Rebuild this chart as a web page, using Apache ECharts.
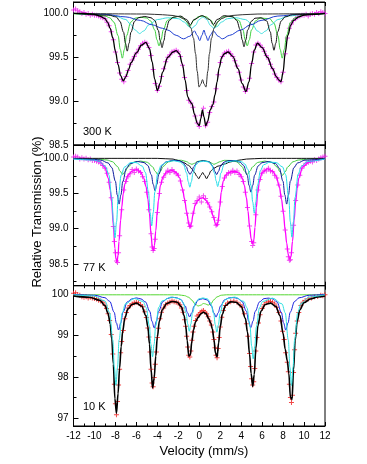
<!DOCTYPE html>
<html><head><meta charset="utf-8">
<script src="https://cdn.jsdelivr.net/npm/echarts@6/dist/echarts.min.js"></script>
<style>html,body{margin:0;padding:0;background:#fff}#c{width:367px;height:464px}</style>
</head><body><div id="c"></div>
<script>
// ---------- labels ----------
const panelLabels = ['300 K', '77 K', '10 K'];
const xTitle = 'Velocity (mm/s)';
const yTitle = 'Relative Transmission (%)';
const velocityRange = [-12, 12, 2];
const yRanges = [[98.5, 100.13, 0.5, 1], [98.19, 100.19, 0.5, 1], [96.81, 100.2, 1, 0]];

// ---------- panel 1 : 300 K ----------
const p1Data = [[-12,100.04],[-11.8,100.05],[-11.6,100.03],[-11.4,100.02],[-11.2,100.0],[-11,100.01],[-10.8,99.99],[-10.6,100.0],[-10.4,99.98],[-10.2,99.99],[-10,99.98],[-9.8,99.98],[-9.6,99.97],[-9.4,99.96],[-9.2,99.95],[-9,99.94],[-8.8,99.9],[-8.6,99.86],[-8.4,99.79],[-8.2,99.7],[-8,99.56],[-7.8,99.44],[-7.6,99.32],[-7.4,99.25],[-7.2,99.22],[-7,99.28],[-6.8,99.35],[-6.6,99.42],[-6.4,99.47],[-6.2,99.51],[-6,99.55],[-5.8,99.59],[-5.6,99.63],[-5.4,99.66],[-5.2,99.67],[-5,99.66],[-4.8,99.61],[-4.6,99.52],[-4.4,99.36],[-4.2,99.2],[-4,99.12],[-3.8,99.17],[-3.6,99.28],[-3.4,99.37],[-3.2,99.45],[-3,99.5],[-2.8,99.53],[-2.6,99.56],[-2.4,99.57],[-2.2,99.58],[-2,99.56],[-1.8,99.51],[-1.6,99.41],[-1.4,99.27],[-1.2,99.12],[-1,99.01],[-0.8,98.98],[-0.6,98.93],[-0.4,98.83],[-0.2,98.75],[0,98.71],[0.2,98.84],[0.4,98.92],[0.6,98.72],[0.8,98.76],[1,98.87],[1.2,98.94],[1.4,98.99],[1.6,99.14],[1.8,99.3],[2,99.44],[2.2,99.51],[2.4,99.55],[2.6,99.56],[2.8,99.57],[3,99.54],[3.2,99.51],[3.4,99.46],[3.6,99.4],[3.8,99.33],[4,99.24],[4.2,99.16],[4.4,99.11],[4.6,99.14],[4.8,99.26],[5,99.43],[5.2,99.56],[5.4,99.64],[5.6,99.66],[5.8,99.64],[6,99.61],[6.2,99.57],[6.4,99.52],[6.6,99.48],[6.8,99.42],[7,99.37],[7.2,99.31],[7.4,99.27],[7.6,99.24],[7.8,99.22],[8,99.33],[8.2,99.54],[8.4,99.72],[8.6,99.83],[8.8,99.88],[9,99.92],[9.2,99.94],[9.4,99.96],[9.6,99.97],[9.8,99.98],[10,99.98],[10.2,99.99],[10.4,99.97],[10.6,99.99],[10.8,100.0],[11,99.99],[11.2,100.01],[11.4,100.0],[11.6,100.02],[11.8,100.01],[12,100.0]];
const p1Fit = [[-12,100.0],[-11,100.0],[-10,99.99],[-9.5,99.97],[-9,99.94],[-8.75,99.9],[-8.5,99.83],[-8.25,99.72],[-8,99.57],[-7.75,99.42],[-7.5,99.29],[-7.25,99.23],[-7,99.28],[-6.75,99.36],[-6.5,99.44],[-6,99.55],[-5.5,99.64],[-5.1,99.67],[-4.75,99.6],[-4.5,99.45],[-4.25,99.25],[-4,99.12],[-3.75,99.2],[-3.5,99.33],[-3,99.5],[-2.5,99.56],[-2.2,99.575],[-1.9,99.54],[-1.6,99.42],[-1.35,99.24],[-1.1,99.05],[-0.9,99.0],[-0.7,98.97],[-0.45,98.85],[-0.2,98.75],[0,98.72],[0.15,98.8],[0.3,98.9],[0.45,98.82],[0.62,98.72],[0.8,98.77],[1.05,98.9],[1.3,98.96],[1.5,99.07],[1.7,99.22],[1.9,99.38],[2.15,99.5],[2.4,99.54],[2.75,99.56],[3.2,99.51],[3.7,99.37],[4.1,99.2],[4.45,99.11],[4.75,99.22],[5,99.43],[5.25,99.58],[5.55,99.66],[6,99.61],[6.5,99.5],[7,99.37],[7.35,99.28],[7.6,99.24],[7.8,99.22],[8,99.33],[8.2,99.55],[8.45,99.75],[8.75,99.87],[9,99.92],[9.5,99.96],[10,99.98],[11,99.99],[12,100.0]];
const p1Green = [[-12,99.995],[-10,99.985],[-9,99.97],[-8.54,99.95],[-8.14,99.9],[-7.74,99.745],[-7.54,99.59],[-7.34,99.49],[-7.14,99.59],[-6.94,99.745],[-6.54,99.9],[-6.14,99.945],[-5.6,99.956],[-5.04,99.948],[-4.64,99.914],[-4.24,99.81],[-4.04,99.7],[-3.84,99.63],[-3.64,99.7],[-3.44,99.81],[-3.04,99.92],[-2.64,99.95],[-2.1,99.966],[-1.72,99.96],[-1.32,99.92],[-0.92,99.85],[-0.52,99.92],[-0.12,99.96],[0.29,99.97],[0.7,99.96],[1.1,99.92],[1.5,99.85],[1.9,99.92],[2.3,99.96],[3,99.968],[3.78,99.92],[4.18,99.81],[4.38,99.7],[4.58,99.63],[4.78,99.7],[4.98,99.81],[5.38,99.915],[5.8,99.947],[6.72,99.94],[7.12,99.89],[7.52,99.745],[7.72,99.59],[7.92,99.49],[8.12,99.59],[8.32,99.745],[8.72,99.9],[9.12,99.95],[10,99.985],[12,99.995]];
const p1Cyan = [[-12,100],[-9,99.99],[-8,99.97],[-7,99.93],[-6.6,99.88],[-6.1,99.81],[-5.7,99.77],[-5.3,99.8],[-4.8,99.87],[-4,99.93],[-3,99.95],[-2,99.94],[-1.4,99.9],[-1,99.85],[-0.7,99.83],[-0.4,99.86],[0,99.93],[0.35,99.96],[0.7,99.93],[1.1,99.86],[1.4,99.83],[1.7,99.85],[2.1,99.9],[2.7,99.94],[3.5,99.95],[4.4,99.93],[5.1,99.87],[5.55,99.8],[5.95,99.77],[6.35,99.8],[6.85,99.87],[7.5,99.93],[8.5,99.97],[10,99.99],[12,100]];
const p1Blue = [[-12,100],[-9,99.99],[-7,99.96],[-5.6,99.92],[-4.5,99.87],[-3.5,99.83],[-3,99.81],[-2.2,99.75],[-1.5,99.71],[-0.9,99.74],[-0.45,99.8],[-0.2,99.75],[0.05,99.69],[0.25,99.75],[0.45,99.81],[0.62,99.75],[0.83,99.69],[1.05,99.75],[1.35,99.8],[1.8,99.74],[2.2,99.71],[2.9,99.75],[3.95,99.81],[4.9,99.87],[5.9,99.92],[7.5,99.97],[9.5,99.99],[12,100]];
const p1Sextet = [[-12,100],[-8.62,99.98],[-7.92,99.96],[-7.57,99.91],[-7.22,99.785],[-7.045,99.66],[-6.87,99.57],[-6.695,99.66],[-6.52,99.785],[-6.17,99.91],[-5.82,99.95],[-5.2,99.965],[-4.6,99.95],[-4.25,99.92],[-3.9,99.805],[-3.725,99.69],[-3.55,99.61],[-3.375,99.69],[-3.2,99.805],[-2.85,99.92],[-2.5,99.955],[-1.8,99.97],[-1.2,99.93],[-0.85,99.87],[-0.5,99.93],[0.25,99.975],[1,99.93],[1.35,99.87],[1.7,99.93],[2.4,99.975],[3.22,99.96],[3.57,99.92],[3.92,99.81],[4.095,99.7],[4.27,99.62],[4.445,99.7],[4.62,99.81],[4.97,99.91],[5.32,99.945],[5.9,99.95],[6.43,99.915],[6.78,99.79],[6.955,99.66],[7.13,99.58],[7.305,99.66],[7.48,99.79],[7.83,99.915],[8.18,99.96],[8.9,99.985],[12,100]];
const p1Doublet = [[-12,100],[-5,99.993],[-3.5,99.985],[-2.5,99.976],[-2,99.964],[-1.5,99.94],[-1.1,99.9],[-0.8,99.833],[-0.55,99.718],[-0.35,99.539],[-0.2,99.342],[-0.02,99.16],[0.15,99.194],[0.31,99.245],[0.47,99.194],[0.64,99.16],[0.82,99.342],[0.97,99.539],[1.17,99.718],[1.42,99.833],[1.72,99.9],[2.12,99.94],[2.62,99.964],[3.12,99.976],[4.1,99.985],[5.6,99.993],[12,100]];

// ---------- panel 2 : 77 K ----------
const p2Data = [[-12,100.02],[-11.8,100.03],[-11.6,100.02],[-11.4,99.99],[-11.2,100.01],[-11,99.99],[-10.8,100],[-10.6,99.98],[-10.4,99.99],[-10.2,99.97],[-10,99.97],[-9.8,99.96],[-9.6,99.95],[-9.4,99.93],[-9.2,99.9],[-9,99.86],[-8.8,99.79],[-8.6,99.66],[-8.4,99.44],[-8.2,99.03],[-8.1,98.82],[-8,98.66],[-7.9,98.54],[-7.8,98.52],[-7.7,98.66],[-7.6,98.9],[-7.4,99.27],[-7.2,99.55],[-7,99.67],[-6.8,99.74],[-6.6,99.78],[-6.4,99.84],[-6.2,99.8],[-6,99.85],[-5.8,99.82],[-5.6,99.8],[-5.4,99.74],[-5.2,99.67],[-5,99.52],[-4.8,99.27],[-4.6,98.93],[-4.5,98.74],[-4.4,98.69],[-4.3,98.72],[-4.2,98.85],[-4,99.23],[-3.8,99.5],[-3.6,99.66],[-3.4,99.73],[-3.2,99.78],[-3,99.83],[-2.8,99.8],[-2.6,99.84],[-2.4,99.81],[-2.2,99.78],[-2,99.76],[-1.8,99.68],[-1.6,99.55],[-1.4,99.4],[-1.2,99.22],[-1,99.08],[-0.9,99.03],[-0.8,99.04],[-0.6,99.22],[-0.4,99.36],[-0.2,99.4],[0,99.45],[0.2,99.38],[0.4,99.47],[0.6,99.43],[0.8,99.37],[1,99.31],[1.2,99.24],[1.4,99.16],[1.6,99.05],[1.7,99.06],[1.8,99.12],[2,99.38],[2.2,99.6],[2.4,99.72],[2.6,99.76],[2.8,99.8],[3,99.79],[3.2,99.83],[3.4,99.8],[3.6,99.82],[3.8,99.77],[4,99.74],[4.2,99.67],[4.4,99.52],[4.6,99.3],[4.8,99.04],[5,98.82],[5.1,98.76],[5.2,98.8],[5.4,99.2],[5.6,99.55],[5.8,99.7],[6,99.79],[6.2,99.83],[6.4,99.82],[6.6,99.86],[6.8,99.82],[7,99.81],[7.2,99.76],[7.4,99.72],[7.6,99.62],[7.8,99.46],[8,99.25],[8.2,98.98],[8.4,98.71],[8.5,98.6],[8.6,98.55],[8.7,98.56],[8.8,98.66],[9,99.05],[9.2,99.4],[9.4,99.62],[9.6,99.76],[9.8,99.86],[10,99.9],[10.2,99.93],[10.4,99.94],[10.6,99.96],[10.8,99.95],[11,99.98],[11.2,99.97],[11.4,99.99],[11.6,100.01],[11.8,100.02],[12,100.03]];
const p2Fit = [[-12,100.0],[-10.5,99.99],[-9.8,99.97],[-9.47,99.95],[-9,99.87],[-8.68,99.72],[-8.5,99.55],[-8.36,99.38],[-8.2,99.05],[-8.05,98.72],[-7.95,98.57],[-7.85,98.53],[-7.75,98.62],[-7.66,98.82],[-7.5,99.12],[-7.4,99.3],[-7.25,99.5],[-7.09,99.64],[-6.8,99.76],[-6.4,99.82],[-5.97,99.84],[-5.6,99.81],[-5.3,99.72],[-5.08,99.6],[-4.9,99.42],[-4.76,99.22],[-4.6,98.92],[-4.48,98.74],[-4.38,98.69],[-4.28,98.76],[-4.15,98.97],[-4,99.25],[-3.9,99.4],[-3.7,99.62],[-3.45,99.74],[-3.1,99.81],[-2.6,99.83],[-2.2,99.8],[-1.9,99.73],[-1.6,99.57],[-1.4,99.42],[-1.2,99.24],[-1,99.07],[-0.88,99.02],[-0.75,99.07],[-0.6,99.2],[-0.4,99.33],[-0.15,99.4],[0.1,99.43],[0.35,99.44],[0.6,99.41],[0.85,99.36],[1.1,99.28],[1.35,99.17],[1.55,99.07],[1.68,99.04],[1.8,99.1],[1.95,99.3],[2.1,99.52],[2.3,99.68],[2.55,99.77],[3,99.81],[3.5,99.81],[3.83,99.79],[4.1,99.72],[4.3,99.62],[4.5,99.44],[4.65,99.25],[4.8,99.03],[4.95,98.86],[5.08,98.79],[5.2,98.83],[5.32,99.02],[5.45,99.3],[5.57,99.5],[5.75,99.68],[6,99.8],[6.5,99.85],[7,99.82],[7.35,99.74],[7.64,99.6],[7.85,99.42],[8.02,99.24],[8.2,98.98],[8.34,98.8],[8.5,98.63],[8.64,98.57],[8.75,98.6],[8.9,98.82],[9.05,99.12],[9.2,99.38],[9.35,99.58],[9.5,99.72],[9.87,99.88],[10.5,99.95],[11.2,99.98],[12,99.99]];
const p2Cyan = [[-12,99.99],[-10,99.975],[-9.54,99.955],[-8.94,99.885],[-8.64,99.77],[-8.34,99.44],[-8.19,99.1],[-8.04,98.87],[-7.89,99.1],[-7.74,99.44],[-7.44,99.765],[-7.14,99.875],[-6.54,99.94],[-6.04,99.94],[-5.44,99.89],[-5.14,99.8],[-4.84,99.515],[-4.69,99.23],[-4.54,99.04],[-4.39,99.23],[-4.24,99.52],[-3.94,99.8],[-3.64,99.9],[-3.04,99.955],[-2.4,99.966],[-1.8,99.947],[-1.5,99.908],[-1.2,99.79],[-1.05,99.67],[-0.9,99.59],[-0.75,99.67],[-0.6,99.79],[-0.3,99.91],[0,99.95],[0.43,99.96],[0.86,99.95],[1.16,99.91],[1.46,99.79],[1.61,99.68],[1.76,99.6],[1.91,99.68],[2.06,99.79],[2.36,99.91],[2.66,99.95],[3.5,99.966],[4.05,99.95],[4.35,99.92],[4.65,99.84],[4.95,99.61],[5.1,99.38],[5.25,99.22],[5.4,99.38],[5.55,99.61],[5.85,99.83],[6.15,99.91],[6.75,99.947],[7.34,99.94],[7.94,99.88],[8.24,99.77],[8.54,99.44],[8.69,99.1],[8.84,98.88],[8.99,99.1],[9.14,99.44],[9.44,99.775],[9.74,99.888],[10.34,99.957],[12,99.99]];
const p2Blue = [[-12,99.995],[-10,99.985],[-9.4,99.975],[-8.7,99.935],[-8.35,99.87],[-8,99.675],[-7.825,99.48],[-7.65,99.35],[-7.475,99.48],[-7.3,99.67],[-6.95,99.86],[-6.6,99.925],[-5.9,99.956],[-5.27,99.94],[-4.92,99.9],[-4.57,99.766],[-4.395,99.63],[-4.22,99.54],[-4.045,99.63],[-3.87,99.77],[-3.52,99.905],[-3.17,99.95],[-2.5,99.972],[-1.93,99.967],[-1.58,99.946],[-1.23,99.88],[-1.055,99.81],[-0.88,99.77],[-0.705,99.81],[-0.53,99.88],[-0.18,99.95],[0.39,99.968],[0.96,99.95],[1.31,99.885],[1.485,99.815],[1.66,99.77],[1.835,99.815],[2.01,99.885],[2.36,99.945],[2.71,99.966],[3.3,99.969],[3.88,99.947],[4.23,99.9],[4.58,99.76],[4.755,99.616],[4.93,99.52],[5.105,99.616],[5.28,99.76],[5.63,99.893],[5.98,99.938],[6.6,99.955],[7.29,99.925],[7.64,99.862],[7.99,99.675],[8.165,99.48],[8.34,99.35],[8.515,99.48],[8.69,99.675],[9.04,99.87],[9.39,99.935],[10.09,99.975],[12,99.994]];
const p2Green = [[-12,99.997],[-10,99.99],[-8.8,99.977],[-8.3,99.954],[-7.8,99.885],[-7.55,99.816],[-7.3,99.77],[-7.05,99.816],[-6.8,99.878],[-6.3,99.943],[-5.62,99.962],[-4.95,99.944],[-4.45,99.88],[-4.2,99.816],[-3.95,99.77],[-3.7,99.816],[-3.45,99.885],[-2.95,99.95],[-2.35,99.973],[-1.7,99.973],[-1.2,99.953],[-0.95,99.93],[-0.7,99.915],[-0.45,99.93],[-0.2,99.955],[0.35,99.97],[0.9,99.955],[1.15,99.935],[1.4,99.915],[1.65,99.93],[1.9,99.95],[2.4,99.972],[3.08,99.97],[3.58,99.95],[4.08,99.885],[4.33,99.816],[4.58,99.77],[4.83,99.816],[5.08,99.878],[5.58,99.942],[6.26,99.962],[6.95,99.942],[7.45,99.874],[7.7,99.808],[7.95,99.76],[8.2,99.808],[8.45,99.88],[8.95,99.952],[9.45,99.976],[10.5,99.99],[12,99.997]];
const p2Black = [[-12,100.0],[-4,100.0],[-2.5,99.99],[-2,99.97],[-1.5,99.94],[-1,99.9],[-0.7,99.85],[-0.45,99.8],[-0.25,99.75],[-0.05,99.71],[0.15,99.76],[0.33,99.8],[0.5,99.76],[0.7,99.71],[0.9,99.76],[1.1,99.82],[1.4,99.86],[1.8,99.89],[2.4,99.92],[3,99.95],[3.6,99.97],[4.5,99.99],[6,100.0],[12,100.0]];

// ---------- panel 3 : 10 K ----------
const p3Data = [[-12,100.02],[-11.8,100.03],[-11.6,99.99],[-11.4,99.97],[-11.2,99.93],[-11,99.92],[-10.8,99.93],[-10.6,99.9],[-10.4,99.92],[-10.2,99.9],[-10,99.89],[-9.8,99.88],[-9.6,99.85],[-9.4,99.83],[-9.2,99.8],[-9,99.73],[-8.85,99.65],[-8.7,99.52],[-8.55,99.36],[-8.4,99.02],[-8.25,98.55],[-8.1,97.82],[-8,97.35],[-7.9,97.08],[-7.8,97.4],[-7.7,97.8],[-7.6,98.18],[-7.5,98.58],[-7.4,98.85],[-7.25,99.12],[-7.1,99.4],[-6.95,99.55],[-6.8,99.66],[-6.6,99.72],[-6.4,99.76],[-6.2,99.79],[-6,99.8],[-5.8,99.79],[-5.6,99.74],[-5.4,99.69],[-5.2,99.57],[-5.05,99.43],[-4.9,99.18],[-4.8,98.96],[-4.7,98.6],[-4.6,98.18],[-4.5,97.85],[-4.4,97.76],[-4.3,97.98],[-4.2,98.3],[-4.1,98.6],[-4,98.95],[-3.9,99.17],[-3.75,99.4],[-3.6,99.56],[-3.4,99.66],[-3.2,99.74],[-3,99.78],[-2.8,99.8],[-2.6,99.83],[-2.4,99.81],[-2.2,99.8],[-2,99.78],[-1.85,99.74],[-1.7,99.66],[-1.55,99.56],[-1.4,99.38],[-1.3,99.22],[-1.2,98.98],[-1.1,98.72],[-1,98.52],[-0.9,98.48],[-0.8,98.62],[-0.7,98.88],[-0.6,99.08],[-0.5,99.22],[-0.35,99.36],[-0.2,99.47],[-0.05,99.5],[0.1,99.55],[0.25,99.58],[0.4,99.6],[0.55,99.56],[0.7,99.52],[0.85,99.45],[1,99.35],[1.15,99.25],[1.3,99.08],[1.4,98.9],[1.5,98.7],[1.6,98.52],[1.7,98.46],[1.8,98.68],[1.9,98.95],[2,99.2],[2.15,99.44],[2.3,99.6],[2.5,99.72],[2.7,99.78],[3,99.81],[3.3,99.83],[3.6,99.8],[3.9,99.74],[4.1,99.68],[4.3,99.52],[4.5,99.28],[4.65,98.98],[4.8,98.56],[4.9,98.25],[5,97.95],[5.1,97.8],[5.2,97.88],[5.3,98.2],[5.4,98.62],[5.5,98.95],[5.65,99.3],[5.8,99.5],[6,99.65],[6.2,99.74],[6.4,99.8],[6.6,99.83],[6.8,99.82],[7,99.8],[7.2,99.76],[7.4,99.68],[7.6,99.55],[7.8,99.35],[7.95,99.1],[8.1,98.9],[8.25,98.58],[8.4,98.35],[8.5,98.12],[8.6,97.82],[8.7,97.5],[8.8,97.38],[8.9,97.55],[9,98.1],[9.1,98.65],[9.2,99.05],[9.35,99.35],[9.5,99.55],[9.7,99.72],[9.9,99.8],[10.1,99.84],[10.4,99.88],[10.7,99.9],[11,99.93],[11.3,99.94],[11.6,99.97],[11.8,99.96],[12,99.98]];
const p3Fit = [[-12,99.955],[-10.5,99.92],[-9.5,99.85],[-9,99.72],[-8.7,99.53],[-8.5,99.275],[-8.35,98.92],[-8.2,98.31],[-8.05,97.47],[-7.9,97.12],[-7.75,97.59],[-7.6,98.21],[-7.45,98.73],[-7.3,99.11],[-7.1,99.42],[-6.8,99.64],[-6.4,99.75],[-6,99.78],[-5.5,99.71],[-5.1,99.48],[-4.9,99.2],[-4.75,98.79],[-4.6,98.18],[-4.45,97.73],[-4.3,97.97],[-4.15,98.5],[-4,98.96],[-3.8,99.35],[-3.5,99.63],[-3.1,99.77],[-2.6,99.82],[-2.1,99.8],[-1.7,99.69],[-1.45,99.48],[-1.3,99.25],[-1.15,98.875],[-1,98.5],[-0.85,98.53],[-0.7,98.86],[-0.55,99.13],[-0.35,99.33],[-0.1,99.435],[0.15,99.52],[0.4,99.56],[0.65,99.525],[0.9,99.405],[1.1,99.29],[1.25,99.16],[1.4,98.9],[1.55,98.57],[1.7,98.48],[1.85,98.82],[2,99.205],[2.2,99.51],[2.5,99.72],[3,99.81],[3.5,99.8],[4,99.7],[4.4,99.41],[4.6,99.085],[4.8,98.55],[4.95,98.08],[5.1,97.765],[5.25,98.055],[5.4,98.68],[5.6,99.24],[5.9,99.59],[6.3,99.745],[6.8,99.78],[7.3,99.7],[7.7,99.48],[8,99.05],[8.2,98.67],[8.4,98.39],[8.55,98.08],[8.7,97.5],[8.85,97.45],[9,98.17],[9.15,98.87],[9.35,99.35],[9.6,99.62],[10,99.79],[10.6,99.88],[11.3,99.93],[12,99.95]];
const p3Cyan = [[-12,99.985],[-10,99.95],[-9,99.83],[-8.55,99.55],[-8.25,98.89],[-8.1,98.23],[-7.95,97.79],[-7.8,98.23],[-7.65,98.89],[-7.35,99.54],[-7.05,99.76],[-6.2,99.89],[-5.36,99.82],[-5.06,99.67],[-4.76,99.23],[-4.61,98.78],[-4.46,98.48],[-4.31,98.78],[-4.16,99.23],[-3.86,99.68],[-3.56,99.83],[-2.7,99.925],[-1.85,99.886],[-1.55,99.8],[-1.25,99.54],[-1.1,99.275],[-0.95,99.1],[-0.8,99.275],[-0.65,99.54],[-0.35,99.8],[-0.05,99.88],[0.36,99.905],[0.78,99.88],[1.08,99.79],[1.38,99.525],[1.53,99.256],[1.68,99.077],[1.83,99.257],[1.98,99.526],[2.28,99.795],[2.58,99.883],[3.4,99.925],[4.25,99.82],[4.55,99.67],[4.85,99.205],[5,98.74],[5.15,98.43],[5.3,98.74],[5.45,99.205],[5.75,99.67],[6.05,99.82],[7,99.9],[7.9,99.76],[8.2,99.545],[8.5,98.887],[8.65,98.228],[8.8,97.789],[8.95,98.23],[9.1,98.89],[9.4,99.55],[9.7,99.77],[10.5,99.93],[12,99.98]];
const p3Blue = [[-12,99.99],[-10,99.97],[-9,99.91],[-8.54,99.82],[-8.12,99.56],[-7.91,99.3],[-7.7,99.13],[-7.49,99.3],[-7.28,99.56],[-6.86,99.81],[-6.44,99.88],[-6,99.905],[-5.56,99.88],[-5.14,99.81],[-4.72,99.58],[-4.51,99.34],[-4.3,99.18],[-4.09,99.34],[-3.88,99.58],[-3.46,99.82],[-3.04,99.89],[-2.6,99.92],[-2.18,99.91],[-1.76,99.865],[-1.34,99.71],[-1.13,99.55],[-0.92,99.444],[-0.71,99.547],[-0.5,99.705],[-0.08,99.857],[0.34,99.887],[0.76,99.855],[1.18,99.705],[1.39,99.547],[1.6,99.441],[1.81,99.548],[2.02,99.706],[2.44,99.862],[2.86,99.907],[3.3,99.914],[3.66,99.893],[4.08,99.82],[4.5,99.583],[4.71,99.346],[4.92,99.187],[5.13,99.346],[5.34,99.58],[5.76,99.81],[6.18,99.887],[6.6,99.9],[7,99.883],[7.42,99.806],[7.84,99.554],[8.05,99.298],[8.26,99.127],[8.47,99.3],[8.68,99.559],[9.1,99.82],[9.52,99.907],[10.5,99.97],[12,99.99]];
const p3Green = [[-12,99.98],[-2,99.98],[-1.4,99.96],[-1,99.92],[-0.7,99.85],[-0.4,99.76],[-0.1,99.71],[0.15,99.73],[0.4,99.77],[0.6,99.76],[0.85,99.73],[1.1,99.76],[1.4,99.86],[1.7,99.93],[2.1,99.97],[2.6,99.98],[12,99.98]];

// ---------- chart ----------
const FONT = '"Liberation Sans", Arial, Helvetica, sans-serif';
const plusSym = 'path://M4,0h2v4h4v2h-4v4h-2v-4h-4v-2h4z';
const grids = [
  {left: 73.5, top: 2, width: 251.5, height: 143},
  {left: 73.5, top: 145, width: 251.5, height: 140.7},
  {left: 73.5, top: 285.7, width: 251.5, height: 140.3}
].map(g => Object.assign({show: true, borderColor: '#000', borderWidth: 1, backgroundColor: 'transparent'}, g));

const xAxes = [], yAxes = [];
for (let i = 0; i < 3; i++) {
  const common = {
    gridIndex: i, type: 'value', min: velocityRange[0], max: velocityRange[1], interval: velocityRange[2],
    axisLine: {show: true, onZero: false, lineStyle: {color: '#000', width: 1}},
    axisTick: {show: true, inside: true, length: 4, lineStyle: {color: '#000'}},
    minorTick: {show: true, splitNumber: 2, length: 2.5, lineStyle: {color: '#000'}},
    splitLine: {show: false}, minorSplitLine: {show: false}
  };
  xAxes.push(Object.assign({}, common, {position: 'bottom',
    axisLabel: {show: i === 2, color: '#000', fontSize: 10, fontFamily: FONT, margin: 5}}));
  xAxes.push(Object.assign({}, common, {position: 'top', axisLabel: {show: false}}));
  const [mn, mx, step, dec] = yRanges[i];
  yAxes.push({
    gridIndex: i, type: 'value', position: 'left', min: mn, max: mx, minInterval: step, maxInterval: step,
    axisLine: {show: true, onZero: false, lineStyle: {color: '#000'}},
    axisTick: {show: true, inside: true, length: 5, lineStyle: {color: '#000'}},
    splitLine: {show: false},
    axisLabel: {color: '#000', fontSize: 10, fontFamily: FONT, margin: 5,
      formatter: v => { const k = v / step; return Math.abs(k - Math.round(k)) < 1e-6 ? v.toFixed(dec) : ''; }}
  });
  yAxes.push({
    gridIndex: i, type: 'value', position: 'left', offset: 0, min: mn, max: mx, minInterval: step / 2, maxInterval: step / 2,
    axisLine: {show: false, onZero: false}, axisLabel: {show: false}, splitLine: {show: false},
    axisTick: {show: true, inside: true, length: 3, lineStyle: {color: '#000'}}
  });
}

function line(panel, data, color, width) {
  return {type: 'line', xAxisIndex: panel * 2, yAxisIndex: panel * 2, data: data, showSymbol: false,
    smooth: 0.35, smoothMonotone: 'x', lineStyle: {color: color, width: width || 1}, silent: true, animation: false};
}
function pts(panel, data, color) {
  return {type: 'scatter', xAxisIndex: panel * 2, yAxisIndex: panel * 2, data: data, symbol: plusSym,
    symbolSize: 5, itemStyle: {color: color}, silent: true, animation: false};
}

const series = [
  line(0, p1Green, '#3ccf3c'), line(0, p1Cyan, '#3fdede'), line(0, p1Blue, '#1f3fd0'),
  line(0, p1Sextet, '#111'), line(0, p1Doublet, '#333'),
  pts(0, p1Data, '#ee1fee'), line(0, p1Fit, '#000', 1.3),
  pts(1, p2Data, '#ee1fee'), line(1, p2Fit, '#ff00ff', 1.3),
  line(1, p2Green, '#44cc44'), line(1, p2Black, '#111'), line(1, p2Blue, '#0d1b9c'), line(1, p2Cyan, '#22dde8'),
  line(2, p3Green, '#55d633'), pts(2, p3Data, '#ee1a1a'), line(2, p3Fit, '#000', 1.6),
  line(2, p3Blue, '#1a22dd'), line(2, p3Cyan, '#2fe0e0')
];

const txt = (t, x, y, size, rot, align) => ({type: 'text', x: x, y: y, rotation: rot || 0, silent: true,
  style: {text: t, fill: '#000', font: size + 'px ' + FONT, textAlign: align || 'left', textVerticalAlign: 'middle', align: align || 'left', verticalAlign: 'middle'}});

const chart = echarts.init(document.getElementById('c'), null, {renderer: 'canvas'});
chart.setOption({
  animation: false,
  grid: grids, xAxis: xAxes, yAxis: yAxes, series: series,
  graphic: [
    txt(panelLabels[0], 83, 131.5, 11), txt(panelLabels[1], 83, 268, 11), txt(panelLabels[2], 83, 407, 11),
    txt(xTitle, 204, 451, 13, 0, 'center'),
    txt(yTitle, 37.5, 212, 13, Math.PI / 2, 'center')
  ]
});
</script></body></html>
